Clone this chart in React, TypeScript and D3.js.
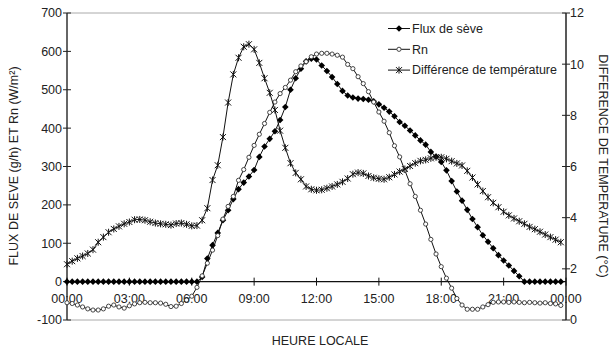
import React, { useEffect, useRef } from 'react';
import * as d3 from 'd3';

// 15-minute readings, 00:00 .. 23:45
const fluxSeve = [
	0, 0, 0, 0, 0, 0, 0, 0, 0, 0, 0, 0, 0, 0, 0, 0, 0, 0, 0, 0, 0, 0, 0, 0, 0, 0,
	12, 60, 95, 127, 160, 186, 215, 241, 258, 274, 291, 325, 352, 372, 392, 421, 455, 500, 530, 555,
	574, 581, 579, 563, 549, 533, 515, 497, 485, 480, 477, 476, 474, 470, 462, 453, 443, 431, 416, 406,
	394, 381, 368, 357, 338, 326, 312, 290, 262, 235, 211, 187, 163, 142, 121, 104, 87, 69, 55, 42,
	28, 14, 0, 0, 0, 0, 0, 0, 0, 0,
];
const rn = [
	-55, -57, -61, -66, -71, -74, -74, -71, -64, -61, -66, -69, -63, -58, -55, -54, -55, -55, -56, -59,
	-65, -64, -57, -48, -38, -15, 15, 48, 82, 120, 163, 196, 222, 264, 292, 324, 355, 384, 412, 441,
	468, 490, 506, 525, 547, 562, 573, 586, 593, 595, 595, 593, 590, 585, 566, 555, 534, 516, 495, 468,
	442, 418, 388, 354, 325, 290, 255, 222, 186, 150, 110, 72, 39, 9, -17, -44, -61, -72, -72, -72,
	-66, -60, -54, -53, -53, -54, -53, -54, -55, -54, -55, -56, -55, -57, -58, -62,
];
const diffTemp = [
	2.18, 2.3, 2.41, 2.5, 2.6, 2.75, 3.04, 3.24, 3.43, 3.56,
	3.66, 3.76, 3.83, 3.92, 3.93, 3.9, 3.84, 3.79, 3.76, 3.74,
	3.71, 3.77, 3.79, 3.74, 3.68, 3.69, 3.9, 4.37, 5.47, 6.05,
	7.15, 8.5, 9.6, 10.25, 10.68, 10.78, 10.58, 10.05, 9.45, 8.88,
	8.21, 7.4, 6.73, 6.13, 5.75, 5.5, 5.22, 5.11, 5.07, 5.09,
	5.15, 5.22, 5.3, 5.4, 5.53, 5.7, 5.76, 5.73, 5.63, 5.56,
	5.52, 5.5, 5.58, 5.69, 5.8, 5.9, 6.02, 6.13, 6.22, 6.26,
	6.32, 6.36, 6.36, 6.3, 6.21, 6.12, 6.04, 5.83, 5.57, 5.3,
	5.04, 4.8, 4.58, 4.41, 4.23, 4.09, 3.97, 3.86, 3.76, 3.64,
	3.55, 3.45, 3.34, 3.24, 3.14, 3.04,
];
const hourTicks = [0, 3, 6, 9, 12, 15, 18, 21, 24];
const leftTicks = [-100, 0, 100, 200, 300, 400, 500, 600, 700];
const rightTicks = [0, 2, 4, 6, 8, 10, 12];
const legendLabels = ['Flux de sève', 'Rn', 'Différence de température'];

const FONT = '"Liberation Sans", Arial, Helvetica, sans-serif';
const FS = '12.5px';

const App: React.FC = () => {
	const svgRef = useRef<SVGSVGElement>(null);
	const width = 610;
	const height = 352;
	const plot = { left: 67, right: 566, top: 13, bottom: 320 };

	useEffect(() => {
		document.body.style.margin = '0';
		const svg = d3.select(svgRef.current);
		svg.selectAll('*').remove();

		const x = d3.scaleLinear().domain([0, 24]).range([plot.left, plot.right]);
		const yL = d3.scaleLinear().domain([-100, 700]).range([plot.bottom, plot.top]);
		const yR = d3.scaleLinear().domain([0, 12]).range([plot.bottom, plot.top]);
		const hours = fluxSeve.map((_, i) => i / 4);

		// plot frame: grey top/bottom, dark sides
		svg.append('line').attr('x1', plot.left).attr('x2', plot.right)
			.attr('y1', plot.top).attr('y2', plot.top).attr('stroke', '#aaa').attr('stroke-width', 1);
		svg.append('line').attr('x1', plot.left).attr('x2', plot.right)
			.attr('y1', plot.bottom).attr('y2', plot.bottom).attr('stroke', '#aaa').attr('stroke-width', 1);

		// left axis
		const gl = svg.append('g');
		gl.append('line').attr('x1', plot.left).attr('x2', plot.left)
			.attr('y1', plot.top).attr('y2', plot.bottom).attr('stroke', '#333').attr('stroke-width', 1.5);
		leftTicks.forEach((v) => {
			gl.append('line').attr('x1', plot.left - 4).attr('x2', plot.left + 4)
				.attr('y1', yL(v)).attr('y2', yL(v)).attr('stroke', '#222');
			gl.append('text').attr('x', plot.left - 5).attr('y', yL(v)).attr('dy', '0.35em')
				.attr('text-anchor', 'end').style('font-family', FONT).style('font-size', FS)
				.attr('fill', '#222').text(v);
		});

		// right axis
		const gr = svg.append('g');
		gr.append('line').attr('x1', plot.right).attr('x2', plot.right)
			.attr('y1', plot.top).attr('y2', plot.bottom).attr('stroke', '#222').attr('stroke-width', 1.5);
		rightTicks.forEach((v) => {
			gr.append('line').attr('x1', plot.right - 4).attr('x2', plot.right + 4)
				.attr('y1', yR(v)).attr('y2', yR(v)).attr('stroke', '#222');
			gr.append('text').attr('x', plot.right + 4).attr('y', yR(v)).attr('dy', '0.35em')
				.style('font-family', FONT).style('font-size', FS).attr('fill', '#222').text(v);
		});

		// x axis sits on y = 0
		const gx = svg.append('g');
		gx.append('line').attr('x1', plot.left).attr('x2', plot.right)
			.attr('y1', yL(0)).attr('y2', yL(0)).attr('stroke', '#111').attr('stroke-width', 1.2);
		hourTicks.forEach((h) => {
			gx.append('line').attr('x1', x(h)).attr('x2', x(h))
				.attr('y1', yL(0) - 4).attr('y2', yL(0) + 4).attr('stroke', '#111');
			gx.append('text').attr('x', x(h)).attr('y', 303).attr('text-anchor', 'middle')
				.style('font-family', FONT).style('font-size', FS).attr('fill', '#222')
				.text(`${String(h % 24).padStart(2, '0')}:00`);
		});

		// titles
		svg.append('text').attr('transform', `translate(${18},${166}) rotate(-90)`)
			.attr('text-anchor', 'middle').style('font-family', FONT).style('font-size', FS)
			.attr('fill', '#222').text('FLUX DE SEVE (g/h) ET Rn (W/m²)');
		svg.append('text').attr('transform', `translate(${599},${166}) rotate(90)`)
			.attr('text-anchor', 'middle').style('font-family', FONT).style('font-size', FS)
			.attr('fill', '#222').text('DIFFERENCE DE TEMPERATURE (°C)');
		svg.append('text').attr('x', 320).attr('y', 345).attr('text-anchor', 'middle')
			.style('font-family', FONT).style('font-size', FS).attr('fill', '#222')
			.text('HEURE LOCALE');

		// marker painters
		const diamond = (g: d3.Selection<SVGGElement, unknown, null, undefined>, cx: number, cy: number) =>
			g.append('path').attr('d', `M${cx},${cy - 3.3}L${cx + 3.3},${cy}L${cx},${cy + 3.3}L${cx - 3.3},${cy}Z`)
				.attr('fill', '#000');
		const circle = (g: d3.Selection<SVGGElement, unknown, null, undefined>, cx: number, cy: number) =>
			g.append('circle').attr('cx', cx).attr('cy', cy).attr('r', 2.1)
				.attr('fill', '#fff').attr('stroke', '#333').attr('stroke-width', 0.9);
		const star = (g: d3.Selection<SVGGElement, unknown, null, undefined>, cx: number, cy: number) =>
			g.append('path')
				.attr('d', `M${cx - 3},${cy - 3}L${cx + 3},${cy + 3}M${cx - 3},${cy + 3}L${cx + 3},${cy - 3}M${cx},${cy - 3.5}L${cx},${cy + 3.5}`)
				.attr('stroke', '#111').attr('stroke-width', 1).attr('fill', 'none');

		const series = [
			{ values: fluxSeve, y: yL, mark: diamond },
			{ values: rn, y: yL, mark: circle },
			{ values: diffTemp, y: yR, mark: star },
		];

		series.forEach((s) => {
			const line = d3.line<number>().x((_, i) => x(hours[i])).y((d) => s.y(d));
			const g = svg.append('g');
			g.append('path').attr('d', line(s.values) as string)
				.attr('fill', 'none').attr('stroke', '#111').attr('stroke-width', 1);
			s.values.forEach((v, i) => s.mark(g, x(hours[i]), s.y(v)));
		});

		// legend
		const lg = svg.append('g');
		legendLabels.forEach((label, i) => {
			const ly = 28.5 + i * 20.8;
			lg.append('line').attr('x1', 388).attr('x2', 410).attr('y1', ly).attr('y2', ly)
				.attr('stroke', '#111');
			series[i].mark(lg, 399, ly);
			lg.append('text').attr('x', 412).attr('y', ly).attr('dy', '0.35em')
				.style('font-family', FONT).style('font-size', FS).attr('fill', '#222').text(label);
		});
	}, []);

	return <svg ref={svgRef} width={width} height={height} style={{ display: 'block' }} />;
};

export default App;
